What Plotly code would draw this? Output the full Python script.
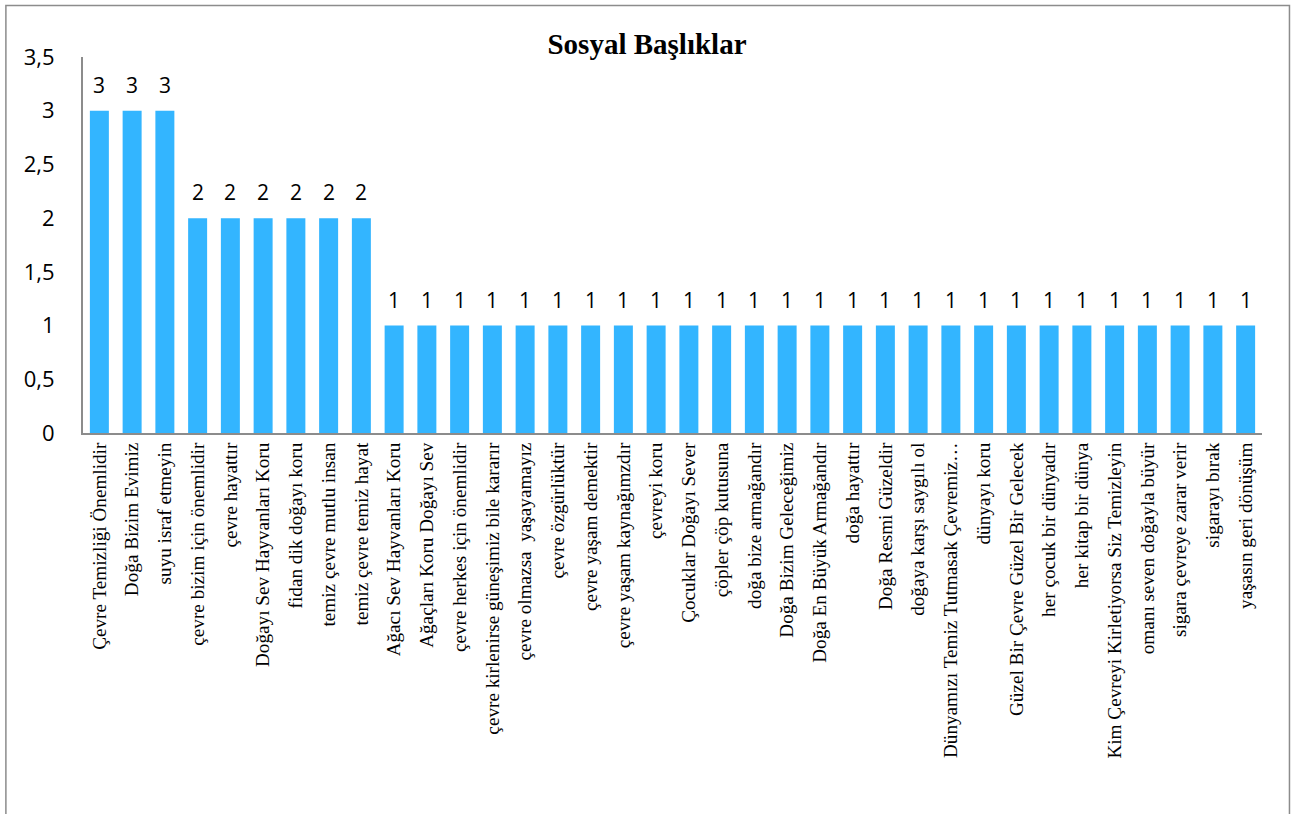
import plotly.graph_objects as go

categories = [
    "Çevre Temizliği Önemlidir", "Doğa Bizim Evimiz", "suyu israf etmeyin",
    "çevre bizim için önemlidir", "çevre hayattır", "Doğayı Sev Hayvanları Koru",
    "fidan dik doğayı koru", "temiz çevre mutlu insan", "temiz çevre temiz hayat",
    "Ağacı Sev Hayvanları Koru", "Ağaçları Koru Doğayı Sev", "çevre herkes için önemlidir",
    "çevre kirlenirse güneşimiz bile kararır", "çevre olmazsa  yaşayamayız", "çevre özgürlüktür",
    "çevre yaşam demektir", "çevre yaşam kaynağımzdır", "çevreyi koru",
    "Çocuklar Doğayı Sever", "çöpler çöp kutusuna", "doğa bize armağandır",
    "Doğa Bizim Geleceğimiz", "Doğa En Büyük Armağandır", "doğa hayattır",
    "Doğa Resmi Güzeldir", "doğaya karşı saygılı ol", "Dünyamızı Temiz Tutmasak Çevremiz…",
    "dünyayı koru", "Güzel Bir Çevre Güzel Bir Gelecek", "her çocuk bir dünyadır",
    "her kitap bir dünya", "Kim Çevreyi Kirletiyorsa Siz Temizleyin", "omanı seven doğayla büyür",
    "sigara çevreye zarar verir", "sigarayı bırak", "yaşasın geri dönüşüm",
]
values = [3, 3, 3, 2, 2, 2, 2, 2, 2] + [1] * 27
y_ticks = [0, 0.5, 1, 1.5, 2, 2.5, 3, 3.5]
title_text = "Sosyal Başlıklar"

fig = go.Figure()
fig.add_trace(go.Bar(
    x=list(range(len(categories))), y=values,
    marker=dict(color="#33B5FF", line=dict(width=0)),
    hoverinfo="skip",
))

for i, v in enumerate(values):
    fig.add_annotation(x=i, y=v, text=str(v), showarrow=False,
                       yanchor="bottom", yshift=10,
                       font=dict(family="Open Sans, sans-serif", size=21, color="#000000"))

fig.add_shape(type="rect", xref="paper", yref="paper",
              x0=-0.0654, x1=1.0233, y0=-1.2, y1=1.137,
              line=dict(color="#8c8c8c", width=1.5), fillcolor="rgba(0,0,0,0)", layer="below")

fig.update_layout(
    width=1292, height=814,
    margin=dict(l=83, r=30, t=57, b=381),
    paper_bgcolor="white", plot_bgcolor="white",
    separators=", ",
    bargap=0.42,
    showlegend=False,
    title=dict(text="<b>" + title_text + "</b>", x=647 / 1292, xref="container", xanchor="center",
               y=1 - 44 / 814, yanchor="middle",
               font=dict(family="Liberation Serif, Times New Roman, serif", size=29, color="#000000")),
    xaxis=dict(
        tickmode="array", tickvals=list(range(len(categories))), ticktext=categories,
        tickangle=-90, range=[-0.5, len(categories) - 0.5],
        showline=True, linecolor="#8c8c8c", linewidth=2,
        showgrid=False, zeroline=False, ticks="", automargin=False,
        ticklabelstandoff=0,
        tickfont=dict(family="Liberation Serif, Times New Roman, serif", size=19.2, color="#000000"),
    ),
    yaxis=dict(
        range=[0, 3.5], tickmode="array", tickvals=y_ticks,
        ticktext=[f"{t:g}".replace(".", ",") for t in y_ticks],
        showline=True, linecolor="#8c8c8c", linewidth=2,
        showgrid=False, zeroline=False, ticks="", automargin=False,
        ticklabelstandoff=22,
        tickfont=dict(family="Open Sans, sans-serif", size=22, color="#000000"),
    ),
)

fig.write_html("out.html", config={"displayModeBar": False},
               post_script="document.body.style.margin='0';document.body.style.overflow='hidden';")
